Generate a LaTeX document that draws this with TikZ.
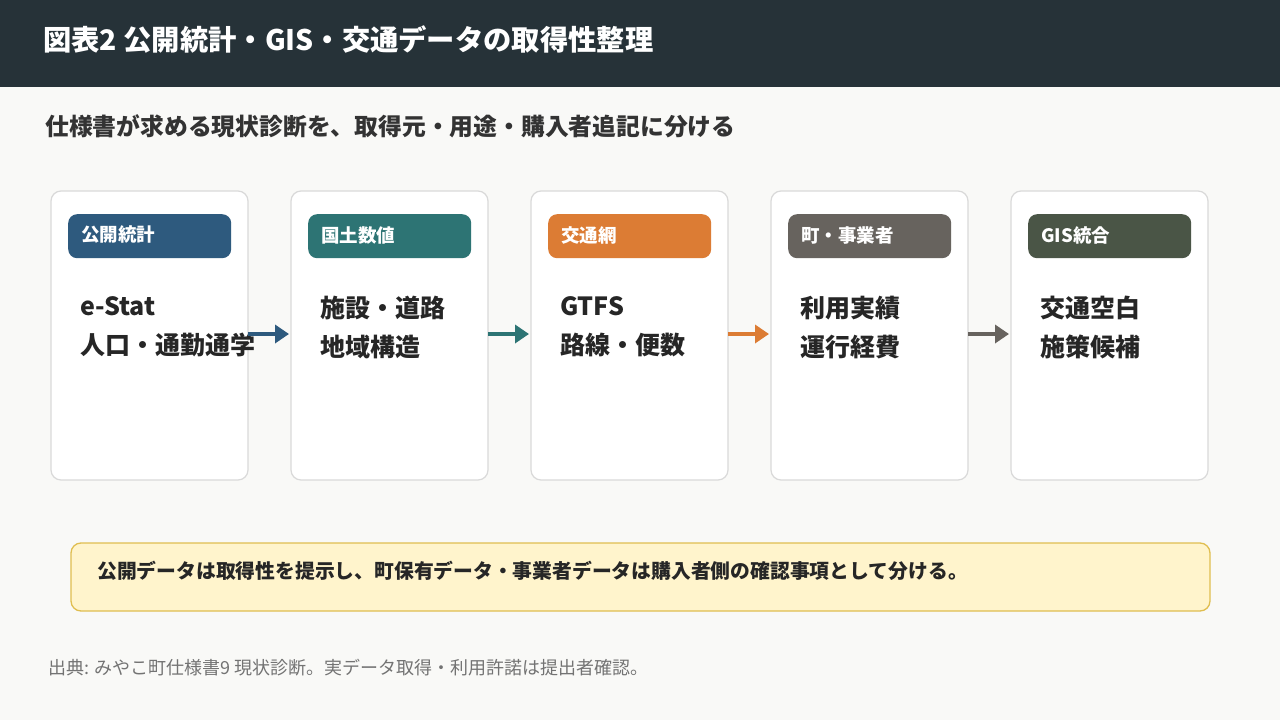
\documentclass[tikz,border=0pt]{standalone}
\usepackage{fontspec}
\usetikzlibrary{arrows.meta}
\setmainfont{Noto Sans CJK JP}
\begin{document}
\begin{tikzpicture}[x=1pt,y=-1pt,
  card/.style={draw=black!15,line width=1.2pt,fill=white,rounded corners=10pt},
  pill/.style={rounded corners=9pt,minimum width=163pt,minimum height=44pt,anchor=north west,inner sep=0pt},
  pilltxt/.style={anchor=west,inner sep=0pt,text=white,font=\fontsize{18.5}{20}\selectfont\bfseries},
  body/.style={anchor=north west,inner sep=0pt,align=left,text=black!85,font=\fontsize{25}{39}\selectfont\bfseries},
  arr/.style={line width=3.5pt,-{Triangle[length=14pt,width=18pt]}}]
\definecolor{c1}{HTML}{2E5A7E}\definecolor{c2}{HTML}{2D7474}\definecolor{c3}{HTML}{DC7C34}
\definecolor{c4}{HTML}{67635E}\definecolor{c5}{HTML}{4A5546}
\useasboundingbox (0,0) rectangle (1280,720);
\fill[fill={rgb,255:red,249;green,249;blue,247}] (0,0) rectangle (1280,720);
\fill[fill={rgb,255:red,38;green,50;blue,56}] (0,0) rectangle (1280,87);
\node[anchor=west,inner sep=0pt,text=white,font=\fontsize{28.3}{32}\selectfont\bfseries] (title) at (43,39) {図表2 公開統計・GIS・交通データの取得性整理};
\node[anchor=west,inner sep=0pt,text=black!80,font=\fontsize{23.8}{26}\selectfont\bfseries] (sub) at (45,126) {仕様書が求める現状診断を、取得元・用途・購入者追記に分ける};
\foreach \i/\c/\t/\b in {0/c1/公開統計/{e-Stat\\人口・通勤通学},1/c2/国土数値/{施設・道路\\地域構造},2/c3/交通網/{GTFS\\路線・便数},3/c4/町・事業者/{利用実績\\運行経費},4/c5/GIS統合/{交通空白\\施策候補}}{
  \pgfmathsetmacro{\x}{51+240*\i}
  \draw[card] (\x,191) rectangle ++(197,289);
  \node[pill,fill=\c] (p\i) at (\x+17,214) {};
  \node[pilltxt] (pt\i) at (\x+30,235) {\t};
  \node[body] (b\i) at (\x+29,296) {\b};
  \coordinate (r\i) at (\x+197,334);
  \coordinate (l\i) at (\x,334);
}
\draw[arr,c1] (r0) -- ([xshift=-2pt]l1);
\draw[arr,c2] (r1) -- ([xshift=-2pt]l2);
\draw[arr,c3] (r2) -- ([xshift=-2pt]l3);
\draw[arr,c4] (r3) -- ([xshift=-2pt]l4);
\draw[draw={rgb,255:red,224;green,190;blue,80},line width=1.3pt,fill={rgb,255:red,255;green,244;blue,204},rounded corners=10pt] (71,543) rectangle (1210,611);
\node[anchor=west,inner sep=0pt,text=black!85,font=\fontsize{19.8}{22}\selectfont\bfseries] (note) at (97,571) {公開データは取得性を提示し、町保有データ・事業者データは購入者側の確認事項として分ける。};
\node[anchor=west,inner sep=0pt,text=black!55,font=\fontsize{18}{20}\selectfont] (src) at (48,668) {出典: みやこ町仕様書9 現状診断。実データ取得・利用許諾は提出者確認。};
\end{tikzpicture}
\end{document}
